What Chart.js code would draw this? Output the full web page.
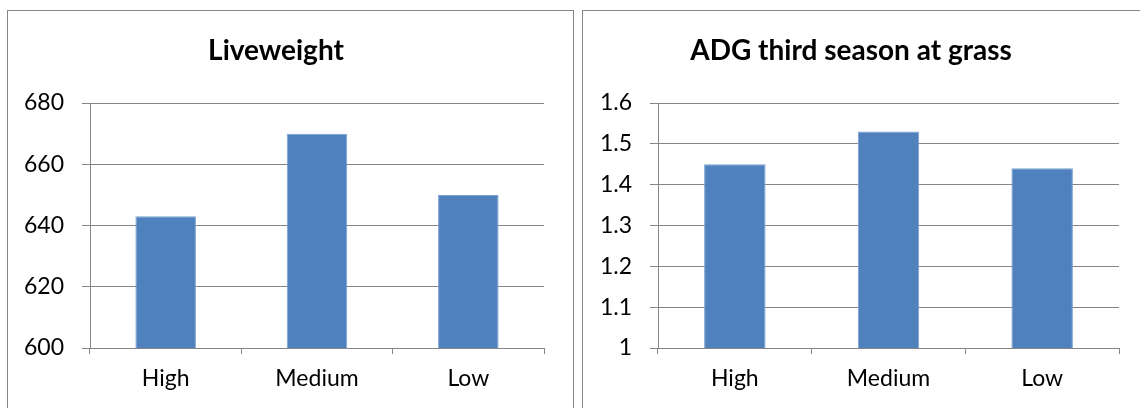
<!DOCTYPE html>
<html lang="en">
<head>
    <meta charset="UTF-8">
    <title>Liveweight and ADG</title>
    <script src="https://cdn.jsdelivr.net/npm/chart.js@4/dist/chart.umd.min.js"></script>
    <style>
        * {
            margin: 0;
            padding: 0;
            box-sizing: border-box;
        }

        body {
            background: white;
            width: 1140px;
            height: 408px;
            overflow: hidden;
            position: relative;
        }

        .panel {
            position: absolute;
            top: 10px;
            height: 420px;
            border: 1px solid #868686;
            background: white;
        }

        #panelLeft {
            left: 7px;
            width: 567px;
        }

        #panelRight {
            left: 582px;
            width: 580px;
        }

        canvas {
            position: absolute;
            top: 0;
            left: 0;
        }
    </style>
</head>
<body>
    <div class="panel" id="panelLeft">
        <canvas id="liveweightChart" width="564" height="397"></canvas>
    </div>
    <div class="panel" id="panelRight">
        <canvas id="adgChart" width="557" height="397"></canvas>
    </div>

    <script>
        const categories = ['High', 'Medium', 'Low'];
        const liveweight = [643, 670, 650];
        const adgThirdSeason = [1.45, 1.53, 1.44];

        const barColor = '#4f81bd';
        const lineColor = '#868686';
        const fontFamily = 'Lato, "Open Sans", sans-serif';

        function makeChart(id, title, values, yMin, yMax, yStep, yWidth, rightPad) {
            return new Chart(document.getElementById(id), {
                type: 'bar',
                data: {
                    labels: categories,
                    datasets: [{
                        data: values,
                        backgroundColor: barColor,
                        borderColor: '#7a9fd0',
                        borderWidth: 1,
                        barPercentage: 0.4,
                        categoryPercentage: 1
                    }]
                },
                options: {
                    responsive: false,
                    animation: false,
                    layout: {
                        padding: { left: 0, right: rightPad, top: 0, bottom: 0 }
                    },
                    plugins: {
                        legend: { display: false },
                        tooltip: { enabled: false },
                        title: {
                            display: true,
                            text: title,
                            color: '#000',
                            font: { family: fontFamily, size: 28, weight: 'bold' },
                            padding: { top: 23, bottom: 35.4 }
                        }
                    },
                    scales: {
                        x: {
                            offset: true,
                            grid: {
                                offset: true,
                                drawOnChartArea: false,
                                color: lineColor,
                                tickLength: 6
                            },
                            border: { color: lineColor },
                            ticks: {
                                color: '#000',
                                padding: 11,
                                font: { family: fontFamily, size: 23 }
                            },
                            afterFit: function (scale) { scale.height = 60; }
                        },
                        y: {
                            min: yMin,
                            max: yMax,
                            grid: { color: lineColor, tickLength: 8 },
                            border: { color: lineColor },
                            ticks: {
                                stepSize: yStep,
                                color: '#000',
                                padding: 18,
                                font: { family: fontFamily, size: 23 },
                                callback: function (v) { return +v.toFixed(2); }
                            },
                            afterFit: function (scale) { scale.width = yWidth; }
                        }
                    }
                }
            });
        }

        makeChart('liveweightChart', 'Liveweight', liveweight, 600, 680, 20, 82, 28);
        makeChart('adgChart', 'ADG third season at grass', adgThirdSeason, 1, 1.6, 0.1, 75, 21);
    </script>
</body>
</html>
